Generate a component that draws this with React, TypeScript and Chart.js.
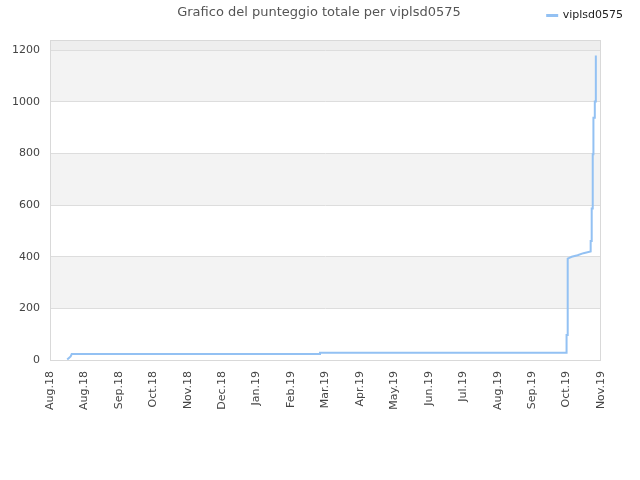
import { useEffect, useRef } from 'react';
import { Chart, registerables, type Plugin } from 'chart.js';

Chart.register(...registerables);

const monthLabels = [
  'Aug.18', 'Aug.18', 'Sep.18', 'Oct.18', 'Nov.18', 'Dec.18', 'Jan.19', 'Feb.19', 'Mar.19',
  'Apr.19', 'May.19', 'Jun.19', 'Jul.19', 'Aug.19', 'Sep.19', 'Oct.19', 'Nov.19',
];

const yTicks = [0, 200, 400, 600, 800, 1000, 1200];

// x in month index (0 = first label), y = total score
const scoreX = [
  0.5, 0.55, 0.6, 0.63, 7.84, 7.84, 15.0, 15.0, 15.02, 15.02, 15.04, 15.04, 15.08, 15.15, 15.32,
  15.49, 15.7, 15.7, 15.73, 15.73, 15.76, 15.76, 15.78, 15.78, 15.82, 15.82, 15.85, 15.85,
];
const scoreY = [
  2, 8, 14, 23, 23, 28, 28, 97, 97, 333, 333, 393, 396, 400, 406,
  414, 421, 461, 461, 587, 587, 797, 797, 939, 939, 1002, 1002, 1180,
];

const seriesName = 'viplsd0575';
const chartTitle = 'Grafico del punteggio totale per viplsd0575';
const lineColor = '#93c1f3';

const backdrop: Plugin<'line'> = {
  id: 'backdrop',
  beforeDraw(chart) {
    const { ctx, chartArea, scales } = chart;
    const y = scales['y'];
    if (!chartArea || !y) return;
    ctx.save();
    // alternating bands
    const ticks = y.ticks.map((t) => t.value);
    for (let i = 0; i < ticks.length; i++) {
      const lo = ticks[i];
      const hi = i + 1 < ticks.length ? ticks[i + 1] : (y.max as number);
      const top = y.getPixelForValue(hi);
      const bot = y.getPixelForValue(lo);
      if (i === ticks.length - 1) ctx.fillStyle = '#eeeeee';
      else if (i % 2 === 1) ctx.fillStyle = '#f3f3f3';
      else continue;
      ctx.fillRect(chartArea.left, top, chartArea.right - chartArea.left, bot - top);
    }
    ctx.restore();
  },
  afterDraw(chart) {
    const { ctx, chartArea } = chart;
    ctx.save();
    ctx.strokeStyle = '#d9d9d9';
    ctx.lineWidth = 1;
    ctx.strokeRect(chartArea.left + 0.5, chartArea.top + 0.5, chartArea.right - chartArea.left - 1, chartArea.bottom - chartArea.top);
    ctx.font = "13px 'DejaVu Sans', sans-serif";
    ctx.fillStyle = '#555555';
    ctx.textAlign = 'center';
    ctx.textBaseline = 'middle';
    ctx.fillText(chartTitle, 319, 13);
    ctx.restore();
  },
};

export default function App() {
  const canvasRef = useRef<HTMLCanvasElement>(null);

  useEffect(() => {
    if (!canvasRef.current) return;
    const chart = new Chart(canvasRef.current, {
      type: 'line',
      data: {
        datasets: [
          {
            label: seriesName,
            data: scoreX.map((x, i) => ({ x, y: scoreY[i] })),
            borderColor: lineColor,
            backgroundColor: lineColor,
            borderWidth: 2,
            pointRadius: 0,
            fill: false,
            tension: 0,
          },
        ],
      },
      options: {
        responsive: false,
        animation: false,
        layout: { padding: { top: 0, left: 0, right: 7, bottom: 0 } },
        scales: {
          x: {
            type: 'linear',
            min: 0,
            max: 16,
            grid: { display: false },
            border: { display: false },
            afterFit: (s) => { s.height = 120; },
            ticks: {
              stepSize: 1,
              autoSkip: false,
              minRotation: 90,
              maxRotation: 90,
              color: '#444444',
              font: { family: "'DejaVu Sans', sans-serif", size: 11 },
              callback: (v) => monthLabels[Number(v)] ?? '',
            },
          },
          xt: {
            type: 'linear',
            position: 'top',
            grid: { display: false },
            border: { display: false },
            ticks: { display: false },
            afterFit: (s) => { s.height = 9; },
          },
          y: {
            min: 0,
            max: 1240,
            afterFit: (s) => { s.width = 50; },
            afterBuildTicks: (s) => {
              s.ticks = yTicks.map((value) => ({ value }));
            },
            grid: { color: '#dddddd', drawTicks: false },
            border: { display: false },
            ticks: {
              padding: 10,
              color: '#444444',
              font: { family: "'DejaVu Sans', sans-serif", size: 11 },
              callback: (v) => String(v),
            },
          },
          yr: {
            position: 'right',
            grid: { display: false },
            border: { display: false },
            ticks: { display: false },
            afterFit: (s) => { s.width = 32; },
          },
        },
        plugins: {
          title: { display: false },
          tooltip: { enabled: false },
          legend: {
            position: 'top',
            align: 'end',
            labels: {
              boxWidth: 10,
              boxHeight: 1,
              padding: 10,
              color: '#222222',
              font: { family: "'DejaVu Sans', sans-serif", size: 11 },
            },
          },
        },
      },
      plugins: [backdrop],
    });
    return () => chart.destroy();
  }, []);

  return (
    <div style={{ position: 'fixed', left: 0, top: 0, width: 640, height: 480, background: '#fff' }}>
      <canvas ref={canvasRef} width={640} height={480} />
    </div>
  );
}
